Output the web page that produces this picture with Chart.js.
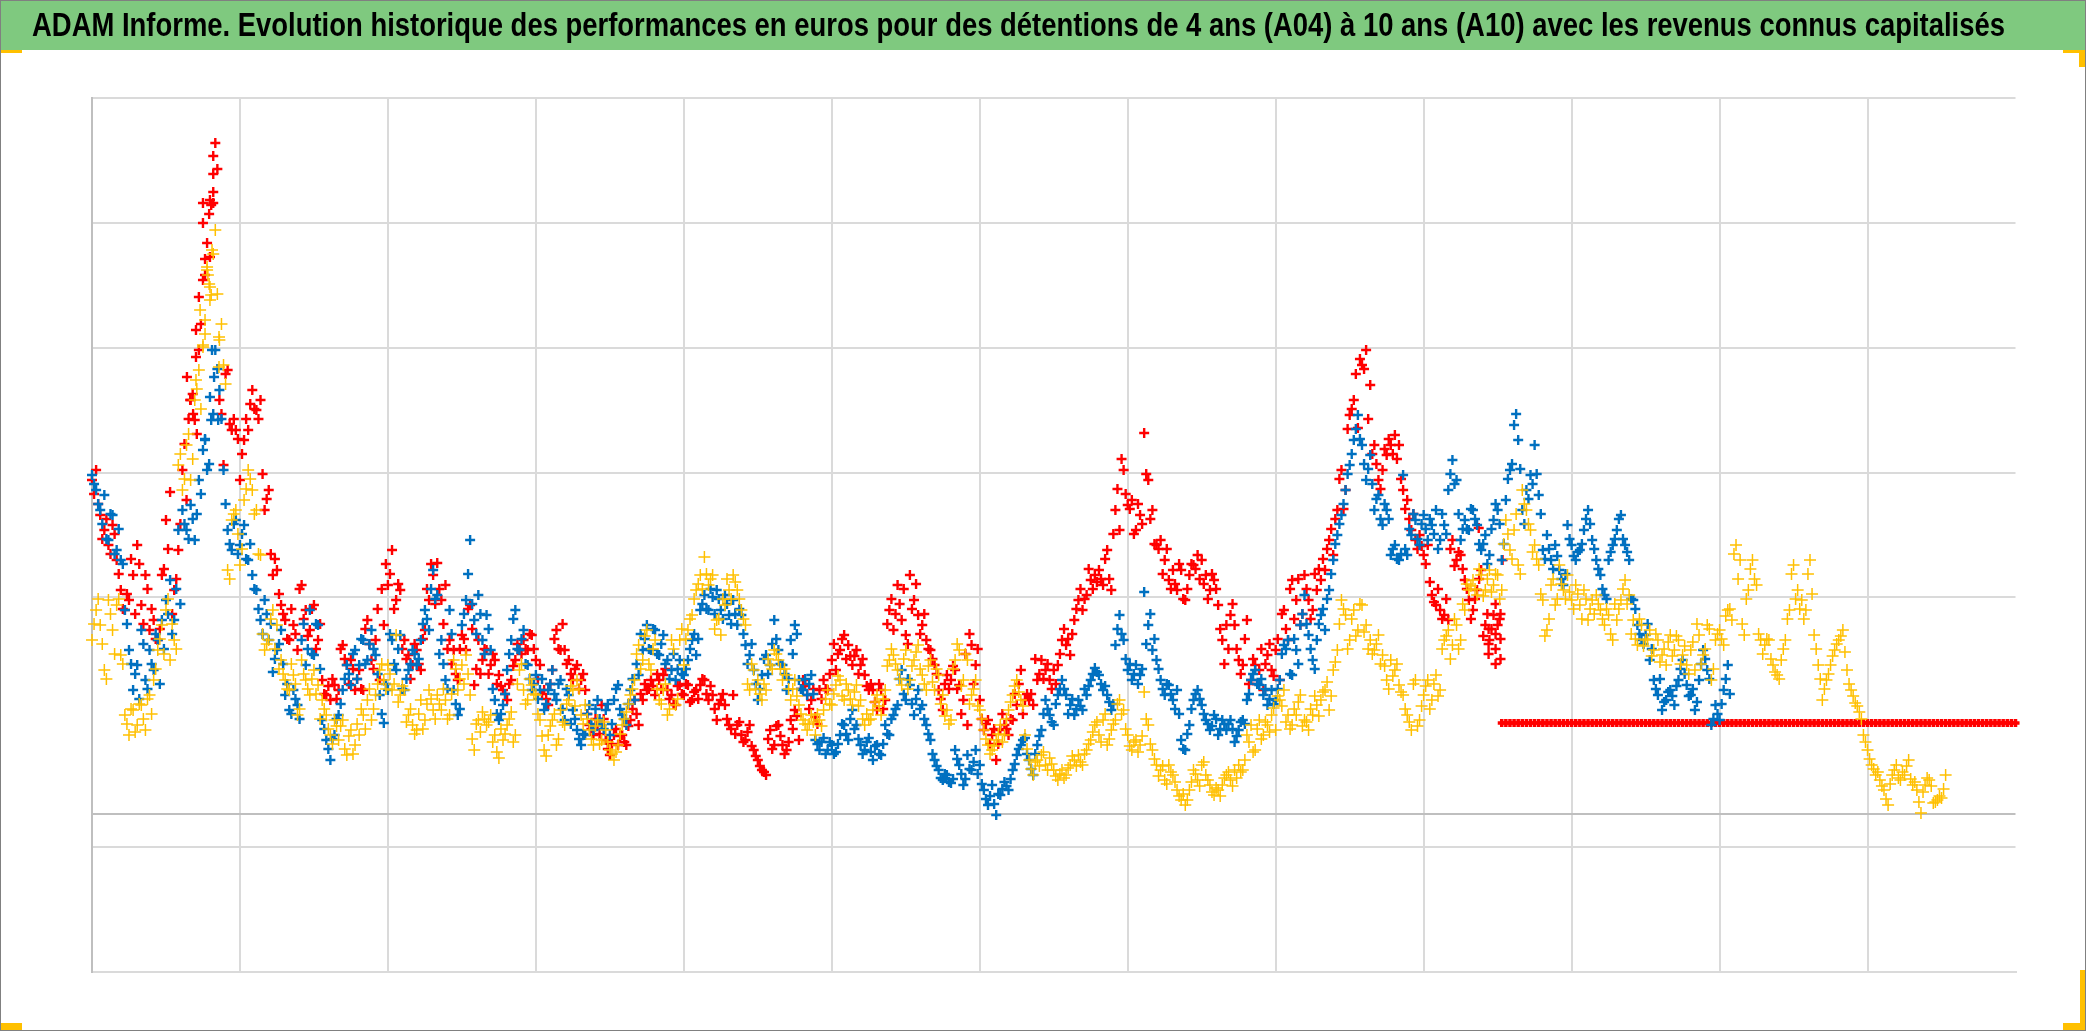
<!DOCTYPE html>
<html>
<head>
<meta charset="utf-8">
<title>ADAM Informe</title>
<script src="https://cdn.jsdelivr.net/npm/chart.js@4/dist/chart.umd.js"></script>
<style>
    html, body { margin: 0; padding: 0; background: #fff; }
    canvas { display: block; }
</style>
</head>
<body>
<canvas id="chart" width="2086" height="1031"></canvas>
<script>
const titleText = "ADAM Informe. Evolution historique des performances en euros pour des détentions de 4 ans (A04) à 10 ans (A10) avec les revenus connus capitalisés";

// no labels on the original axes: x runs in sampling steps, 36 per grid interval
const xMax = 468;
const xStep = 36;
const yTicks = [-158, -33, 0, 92, 217, 341, 466, 591, 716];

// first reading of each cloud, one value per step
const blueValues = [
    339, 324, 304, 319, 274, 299, 264, 254, 204, 164, 124, 149,
    184, 134, 164, 144, 174, 194, 214, 234, 194, 284, 304, 284,
    309, 274, 334, 364, 344, 394, 464, 424, 344, 284, 264, 294,
    269, 289, 254, 239, 224, 194, 214, 174, 142, 164, 184, 119,
    104, 124, 109, 174, 149, 204, 159, 189, 94, 74, 54, 79,
    99, 124, 149, 129, 164, 149, 174, 154, 184, 159, 119, 91,
    124, 174, 144, 179, 124, 144, 164, 149, 174, 204, 184, 244,
    219, 174, 134, 204, 124, 99, 189, 214, 274, 194, 219, 174,
    199, 164, 114, 94, 109, 144, 174, 204, 164, 184, 149, 124,
    139, 124, 104, 124, 144, 114, 134, 94, 119, 104, 84, 69,
    79, 109, 84, 114, 89, 104, 79, 114, 129, 99, 89, 124,
    114, 139, 164, 189, 164, 184, 159, 179, 154, 144, 134, 154,
    139, 154, 174, 159, 204, 219, 204, 217, 224, 204, 219, 199,
    214, 189, 199, 169, 159, 144, 114, 139, 159, 149, 194, 164,
    149, 124, 174, 189, 134, 124, 119, 139, 74, 64, 76, 64,
    69, 62, 79, 89, 74, 104, 89, 69, 64, 76, 54, 69,
    59, 89, 79, 99, 109, 144, 114, 129, 99, 124, 109, 89,
    74, 54, 44, 34, 39, 31, 64, 49, 29, 59, 44, 64,
    49, 24, 9, 29, -1, 19, 32, 24, 44, 59, 69, 76,
    54, 39, 69, 84, 114, 99, 89, 119, 134, 119, 109, 99,
    114, 104, 119, 134, 146, 139, 124, 119, 104, 169, 199, 174,
    144, 134, 149, 139, 222, 189, 164, 154, 134, 119, 129, 114,
    124, 74, 64, 89, 114, 124, 109, 94, 84, 99, 79, 94,
    84, 94, 72, 84, 94, 114, 134, 144, 129, 119, 109, 124,
    114, 134, 169, 174, 139, 164, 189, 219, 179, 154, 174, 199,
    184, 224, 254, 279, 299, 324, 349, 374, 399, 369, 334, 359,
    304, 319, 289, 304, 259, 269, 254, 339, 259, 279, 294, 269,
    299, 274, 289, 304, 274, 289, 324, 354, 334, 274, 294, 284,
    304, 289, 264, 279, 259, 294, 304, 254, 314, 344, 389, 374,
    304, 324, 339, 369, 319, 264, 279, 254, 269, 244, 229, 289,
    269, 254, 264, 284, 304, 274, 254, 239, 219, 254, 269, 284,
    299, 269, 254, 214, 189, 174, 179, 154, 134, 119, 104, 114,
    124, 109, 134, 154, 129, 119, 104, 134, 164, 144, 89, 109,
    94, 124, 149
];
// second reading, half a step later
const blueSecond = [
    330, 310, 290, 275, 300, 260, 285, 250, 190, 150, 140, 115,
    170, 125, 150, 180, 130, 165, 200, 180, 225, 210, 290, 275,
    295, 300, 320, 375, 350, 400, 445, 395, 310, 270, 290, 260,
    280, 255, 270, 225, 205, 180, 200, 190, 155, 170, 150, 130,
    100, 115, 95, 190, 165, 160, 190, 145, 85, 65, 75, 95,
    110, 135, 140, 160, 135, 175, 150, 170, 165, 140, 100, 130,
    180, 150, 165, 125, 135, 150, 160, 155, 190, 195, 225, 215,
    160, 150, 125, 180, 110, 105, 200, 240, 210, 180, 200, 160,
    185, 125, 100, 100, 120, 160, 195, 165, 175, 150, 135, 130,
    115, 135, 110, 130, 120, 130, 105, 125, 90, 95, 75, 80,
    100, 90, 105, 95, 85, 110, 90, 125, 105, 95, 110, 135,
    150, 180, 175, 165, 185, 160, 170, 150, 135, 160, 145, 140,
    145, 165, 180, 175, 210, 205, 225, 200, 215, 195, 210, 190,
    200, 205, 180, 150, 170, 130, 125, 155, 140, 170, 175, 150,
    140, 135, 160, 180, 125, 135, 130, 120, 70, 72, 60, 72,
    60, 70, 90, 80, 95, 85, 75, 60, 72, 62, 68, 60,
    70, 80, 95, 105, 135, 120, 135, 110, 115, 105, 95, 80,
    60, 48, 36, 40, 32, 35, 55, 40, 35, 45, 52, 40,
    30, 15, 18, 10, 20, 25, 28, 35, 50, 65, 74, 60,
    45, 60, 78, 100, 105, 92, 110, 125, 125, 100, 115, 105,
    108, 125, 128, 140, 142, 130, 128, 112, 110, 185, 180, 155,
    150, 140, 130, 145, 170, 200, 175, 145, 125, 130, 120, 105,
    100, 65, 80, 105, 120, 115, 100, 90, 88, 95, 85, 90,
    90, 85, 78, 92, 90, 120, 140, 130, 135, 125, 115, 110,
    125, 160, 165, 140, 175, 150, 200, 190, 165, 145, 190, 205,
    215, 240, 270, 290, 310, 340, 360, 385, 375, 350, 345, 330,
    315, 295, 310, 295, 265, 255, 260, 265, 285, 300, 275, 290,
    285, 295, 280, 265, 300, 280, 340, 330, 300, 285, 285, 305,
    295, 270, 270, 250, 285, 310, 290, 270, 335, 350, 400, 345,
    290, 315, 330, 340, 300, 255, 265, 245, 258, 235, 240, 275,
    258, 262, 270, 295, 290, 265, 245, 225, 215, 262, 275, 295,
    275, 262, 215, 205, 180, 170, 190, 165, 125, 135, 112, 122,
    118, 128, 145, 140, 118, 125, 112, 150, 155, 135, 95, 100,
    110, 135, 120
];
const blueExtraX = [27.5, 28.7, 29.2, 29.7, 30.7];
const blueExtraY = [374, 417, 464, 437, 394];

const yellowValues = [
    174, 204, 189, 144, 214, 184, 209, 159, 99, 79, 104, 89,
    109, 84, 119, 134, 164, 189, 204, 154, 174, 349, 324, 369,
    334, 414, 444, 469, 544, 519, 584, 474, 449, 244, 294, 304,
    249, 314, 344, 324, 304, 259, 164, 174, 204, 189, 154, 134,
    124, 139, 99, 154, 134, 119, 144, 129, 114, 99, 79, 94,
    74, 94, 59, 84, 69, 79, 99, 114, 94, 119, 144, 134,
    149, 124, 179, 119, 124, 99, 89, 84, 114, 94, 124, 104,
    119, 104, 114, 99, 154, 124, 149, 159, 119, 64, 94, 102,
    89, 99, 79, 56, 74, 89, 102, 79, 144, 124, 114, 129,
    119, 94, 64, 79, 94, 69, 104, 89, 114, 124, 134, 99,
    109, 84, 69, 94, 74, 84, 64, 54, 69, 89, 102, 119,
    134, 169, 154, 184, 144, 174, 114, 124, 99, 174, 109, 174,
    149, 184, 199, 224, 239, 257, 229, 239, 194, 179, 209, 224,
    239, 224, 204, 189, 124, 144, 134, 114, 124, 149, 164, 154,
    134, 139, 114, 134, 109, 94, 84, 99, 79, 94, 104, 124,
    109, 129, 134, 114, 124, 109, 129, 114, 89, 94, 104, 119,
    99, 124, 154, 159, 144, 129, 164, 134, 154, 169, 139, 124,
    154, 124, 139, 119, 104, 94, 154, 164, 134, 154, 119, 134,
    104, 84, 69, 64, 74, 89, 79, 104, 119, 134, 114, 79,
    54, 39, 54, 59, 49, 56, 44, 34, 44, 39, 49, 54,
    59, 49, 64, 74, 89, 79, 94, 69, 84, 94, 114, 104,
    79, 64, 74, 69, 122, 89, 64, 49, 44, 34, 49, 39,
    24, 14, 9, 24, 44, 34, 49, 39, 29, 19, 24, 29,
    39, 34, 44, 49, 44, 79, 89, 64, 94, 79, 89, 99,
    84, 114, 124, 99, 89, 99, 119, 94, 84, 99, 109, 114,
    124, 104, 144, 164, 214, 199, 174, 204, 184, 209, 189, 174,
    164, 179, 159, 134, 154, 144, 129, 119, 99, 84, 134, 94,
    119, 134, 114, 139, 124, 174, 184, 169, 189, 174, 204, 224,
    234, 219, 239, 224, 244, 229, 239, 224, 294, 264, 284, 249,
    324, 304, 284, 269, 249, 214, 184, 229, 209, 249, 224, 239,
    214, 229, 209, 224, 194, 214, 219, 204, 189, 199, 174, 194,
    214, 234, 219, 194, 169, 189, 174, 184, 164, 174, 159, 149,
    179, 164, 174, 159, 149, 164, 144, 179, 159, 189, 134, 174,
    184, 169, 204, 194, 269, 254, 179, 224, 254, 229, 174, 169,
    174, 149, 139, 154, 174, 204, 249, 224, 214, 204, 254, 179,
    149, 114, 134, 149, 164, 174, 184, 144, 124, 111, 102, 79,
    64, 49, 39, 34, 24, 9, 39, 49, 34, 39, 54, 29,
    24, 1, 29, 34, 11, 14, 16, 39
];
const yellowSecond = [
    190, 215, 170, 135, 200, 160, 215, 150, 90, 105, 82, 110,
    95, 115, 100, 145, 175, 160, 215, 190, 165, 360, 335, 380,
    355, 425, 405, 480, 530, 560, 520, 490, 430, 235, 300, 280,
    265, 325, 335, 300, 260, 180, 170, 195, 165, 145, 140, 125,
    150, 130, 105, 140, 125, 135, 120, 95, 105, 85, 70, 88,
    88, 65, 78, 60, 90, 105, 85, 125, 105, 130, 150, 125,
    140, 130, 112, 128, 92, 105, 80, 100, 85, 110, 115, 95,
    110, 125, 95, 120, 145, 135, 130, 140, 75, 90, 82, 95,
    92, 72, 62, 85, 80, 95, 72, 130, 150, 110, 135, 120,
    100, 78, 58, 88, 100, 75, 92, 110, 128, 108, 125, 90,
    95, 75, 88, 70, 92, 72, 60, 62, 80, 95, 110, 125,
    160, 145, 178, 150, 165, 125, 110, 130, 105, 165, 115, 185,
    175, 195, 215, 230, 225, 240, 235, 185, 195, 215, 235, 215,
    232, 215, 195, 130, 150, 125, 120, 130, 155, 145, 160, 145,
    145, 125, 125, 118, 100, 90, 90, 92, 100, 88, 115, 110,
    120, 138, 118, 130, 115, 122, 108, 95, 100, 95, 112, 108,
    115, 148, 165, 150, 135, 155, 125, 148, 162, 145, 130, 148,
    132, 145, 110, 98, 90, 145, 170, 128, 160, 110, 125, 108,
    95, 75, 60, 68, 80, 72, 95, 112, 128, 122, 108, 65,
    45, 52, 48, 62, 44, 50, 38, 40, 36, 46, 58, 48,
    52, 60, 70, 82, 92, 72, 100, 75, 90, 110, 100, 85,
    68, 72, 62, 78, 95, 70, 55, 38, 48, 30, 42, 32,
    18, 20, 14, 32, 40, 28, 52, 34, 22, 26, 18, 36,
    42, 28, 36, 42, 54, 72, 62, 85, 75, 92, 82, 106,
    118, 108, 92, 85, 105, 112, 88, 92, 105, 118, 98, 122,
    132, 118, 152, 190, 205, 165, 195, 178, 210, 182, 165, 160,
    170, 150, 148, 125, 138, 150, 122, 105, 92, 130, 88, 108,
    128, 105, 130, 118, 165, 178, 155, 195, 165, 210, 230, 228,
    225, 245, 218, 235, 222, 240, 215, 270, 280, 255, 300, 240,
    310, 290, 262, 255, 220, 178, 195, 235, 215, 230, 215, 222,
    205, 220, 195, 215, 205, 200, 210, 195, 205, 180, 210, 205,
    225, 210, 180, 175, 195, 168, 175, 158, 180, 152, 165, 172,
    158, 178, 150, 168, 140, 172, 190, 150, 165, 185, 145, 180,
    175, 198, 205, 260, 235, 190, 215, 245, 235, 180, 160, 175,
    155, 142, 135, 165, 195, 240, 215, 205, 195, 240, 220, 165,
    135, 125, 140, 158, 170, 178, 162, 130, 118, 108, 95, 72,
    55, 45, 42, 28, 15, 30, 44, 36, 42, 48, 35, 32,
    12, 22, 36, 28, 12, 18, 25
];
const yellowExtraX = [25.3, 26.3, 27, 27.5, 28, 28.2, 28.7, 28.7, 29.2, 30.9, 30.9];
const yellowExtraY = [434, 504, 467, 494, 547, 539, 527, 514, 564, 477, 447];
const yellowTail = [91, 91, 91, 91, 91, 91, 91, 91, 91, 91, 91, 91, 91, 91, 91, 91, 91];

const redValues = [
    334, 344, 299, 284, 269, 289, 254, 224, 204, 214, 239, 269,
    209, 239, 184, 194, 174, 239, 294, 322, 224, 264, 344, 314,
    414, 394, 464, 534, 571, 609, 671, 414, 349, 444, 384, 384,
    334, 374, 384, 424, 404, 414, 304, 324, 239, 244, 209, 194,
    174, 189, 164, 229, 204, 184, 209, 174, 134, 119, 114, 129,
    124, 169, 149, 154, 124, 144, 124, 194, 154, 174, 134, 189,
    229, 264, 214, 224, 174, 159, 149, 164, 144, 184, 214, 239,
    251, 214, 229, 174, 164, 134, 179, 164, 209, 129, 174, 154,
    164, 149, 154, 139, 124, 114, 134, 154, 164, 174, 164, 179,
    154, 149, 124, 109, 144, 184, 164, 164, 154, 134, 149, 134,
    124, 89, 79, 89, 109, 74, 59, 79, 69, 79, 69, 94,
    114, 89, 114, 124, 134, 119, 134, 139, 124, 119, 109, 129,
    119, 129, 114, 124, 129, 134, 114, 119, 94, 114, 109, 89,
    119, 89, 79, 74, 89, 64, 54, 44, 39, 84, 69, 89,
    69, 64, 94, 104, 74, 134, 119, 114, 97, 124, 134, 124,
    154, 144, 164, 179, 169, 149, 164, 149, 139, 124, 124, 104,
    124, 114, 204, 184, 229, 194, 179, 239, 214, 199, 189, 174,
    164, 149, 124, 104, 139, 134, 144, 129, 114, 89, 169, 149,
    114, 84, 94, 79, 54, 84, 89, 79, 94, 109, 144, 114,
    114, 109, 134, 154, 144, 134, 144, 149, 174, 169, 159, 194,
    214, 204, 219, 234, 239, 244, 229, 264, 224, 304, 284, 344,
    309, 314, 284, 299, 381, 334, 304, 269, 274, 254, 234, 244,
    224, 244, 214, 239, 249, 259, 254, 239, 224, 234, 209, 174,
    189, 199, 189, 154, 149, 194, 134, 149, 144, 124, 159, 144,
    164, 134, 204, 174, 234, 214, 189, 239, 214, 204, 224, 234,
    244, 274, 259, 304, 344, 324, 399, 414, 386, 449, 464, 429,
    369, 334, 344, 359, 369, 379, 369, 324, 314, 284, 274, 279,
    259, 269, 219, 209, 204, 199, 194, 274, 254, 259, 234, 214,
    204, 224, 244, 189, 174, 199, 189
];
const redSecond = [
    320, 310, 275, 295, 260, 280, 240, 205, 220, 255, 200, 250,
    190, 225, 205, 175, 185, 245, 265, 200, 235, 290, 370, 395,
    420, 380, 490, 555, 600, 640, 645, 400, 440, 390, 395, 375,
    360, 395, 410, 405, 395, 340, 315, 260, 255, 220, 200, 175,
    205, 180, 225, 195, 178, 205, 165, 190, 120, 128, 135, 115,
    165, 155, 130, 145, 135, 125, 185, 170, 145, 205, 225, 250,
    240, 205, 230, 165, 155, 135, 170, 150, 175, 225, 250, 210,
    225, 190, 165, 150, 140, 165, 175, 205, 185, 145, 140, 165,
    140, 160, 130, 128, 120, 130, 148, 170, 160, 165, 180, 165,
    135, 120, 115, 130, 175, 165, 190, 150, 140, 145, 125, 140,
    100, 85, 95, 80, 95, 65, 70, 85, 78, 72, 88, 105,
    100, 120, 130, 125, 128, 140, 125, 145, 115, 110, 128, 120,
    130, 112, 122, 115, 135, 120, 128, 105, 110, 120, 95, 85,
    80, 92, 72, 82, 68, 58, 48, 42, 75, 65, 88, 78,
    60, 72, 85, 98, 125, 128, 105, 125, 90, 115, 125, 140,
    170, 160, 175, 155, 158, 158, 140, 155, 128, 130, 112, 130,
    105, 190, 215, 200, 210, 225, 170, 205, 230, 180, 200, 165,
    155, 140, 115, 130, 125, 148, 125, 100, 160, 180, 130, 165,
    95, 90, 70, 85, 70, 100, 85, 95, 120, 130, 100, 120,
    120, 155, 140, 135, 150, 125, 130, 160, 185, 175, 180, 205,
    225, 215, 245, 225, 232, 235, 255, 235, 280, 325, 355, 320,
    305, 280, 310, 290, 340, 295, 270, 265, 240, 265, 225, 230,
    250, 215, 225, 250, 245, 235, 230, 215, 240, 225, 185, 150,
    165, 210, 165, 140, 175, 130, 155, 130, 165, 150, 170, 138,
    175, 200, 185, 225, 195, 235, 200, 225, 195, 240, 245, 255,
    265, 285, 295, 335, 305, 385, 405, 440, 455, 445, 395, 360,
    350, 325, 365, 375, 360, 355, 335, 305, 295, 300, 265, 268,
    250, 232, 212, 225, 195, 215, 265, 248, 262, 245, 225, 195,
    215, 235, 178, 200, 185, 210, 195
];
const redExtraX = [23.1, 23.9, 24.6, 25.3, 25.3, 26, 27, 27, 27.5, 28.7, 28.7, 29.5, 29.5, 29.5, 337.4, 339.8, 339.8, 339.8, 341.5, 341.5, 341.5, 342.7, 342.7, 342.7, 343.2];
const redExtraY = [437, 414, 400, 484, 457, 517, 611, 591, 539, 614, 557, 658, 622, 611, 286, 170, 185, 160, 180, 165, 150, 175, 155, 200, 254];
const redTail = [
    91, 91, 91, 91, 91, 91, 91, 91, 91, 91, 91, 91, 91, 91, 91, 91, 91, 91, 91, 91, 91,
    91, 91, 91, 91, 91, 91, 91, 91, 91, 91, 91, 91, 91, 91, 91, 91, 91, 91, 91, 91, 91,
    91, 91, 91, 91, 91, 91, 91, 91, 91, 91, 91, 91, 91, 91, 91, 91, 91, 91, 91, 91, 91,
    91, 91, 91, 91, 91, 91, 91, 91, 91, 91, 91, 91, 91, 91, 91, 91, 91, 91, 91, 91, 91,
    91, 91, 91, 91, 91, 91, 91, 91, 91, 91, 91, 91, 91, 91, 91, 91, 91, 91, 91, 91, 91,
    91, 91, 91, 91, 91, 91, 91, 91, 91, 91, 91, 91, 91, 91, 91, 91, 91, 91, 91, 91, 91
];

function toPoints(values, second, extraX, extraY, start) {
    let from = start || 0;
    let points = values.map((v, i) => ({ x: from + i, y: v }));
    (second || []).forEach((v, i) => points.push({ x: from + i + 0.5, y: v }));
    (extraX || []).forEach((x, i) => points.push({ x: x, y: extraY[i] }));
    return points;
}

function plusSeries(label, color, radius, width, points) {
    return {
        label: label,
        data: points,
        pointStyle: 'cross',
        pointRadius: radius,
        pointBorderWidth: width,
        pointBorderColor: color,
        pointBackgroundColor: color,
        borderColor: color,
        showLine: false,
        clip: false
    };
}

// green band, outer frame and the yellow corners of the slide
const slideFrame = {
    id: 'slideFrame',
    beforeDraw(chart) {
        const c = chart.ctx;
        c.save();
        c.fillStyle = '#fff';
        c.fillRect(0, 0, 2086, 1031);
        c.fillStyle = '#7FC97F';
        c.fillRect(0, 0, 2086, 50);
        c.fillStyle = '#FFC000';
        c.fillRect(0, 50, 22, 3);
        c.fillRect(2063, 50, 22, 3);
        c.fillRect(2079, 50, 6, 17);
        c.fillRect(0, 1023, 22, 7);
        c.fillRect(2063, 1023, 22, 7);
        c.fillRect(2080, 970, 6, 60);
        c.strokeStyle = '#808080';
        c.lineWidth = 1;
        c.strokeRect(0.5, 0.5, 2085, 1030);
        c.restore();
    },
    afterLayout(chart) {
        // the title sits on the slide band, not on the plot width
        chart.titleBlock.left = 32;
        chart.titleBlock.right = 2005;
    }
};

new Chart(document.getElementById('chart'), {
    type: 'scatter',
    data: {
        datasets: [
            plusSeries('A04', '#FFC000', 6, 1.5, toPoints(yellowValues, yellowSecond, yellowExtraX, yellowExtraY)),
            plusSeries('A07', '#0070C0', 5, 2.4, toPoints(blueValues, blueSecond, blueExtraX, blueExtraY)),
            plusSeries('A10', '#FF0000', 5, 2.4, toPoints(redValues, redSecond, redExtraX, redExtraY)),
            plusSeries('A10 sans valeur', '#FF0000', 4, 3.5, toPoints(redTail, null, null, null, 343)),
            plusSeries('A04 sans valeur', 'rgba(255,192,0,0.7)', 4, 1.6, toPoints(yellowTail, null, null, null, 452))
        ]
    },
    options: {
        responsive: false,
        animation: false,
        events: [],
        layout: { padding: { left: 92, right: 70.5, top: 0, bottom: 59 } },
        plugins: {
            legend: { display: false },
            tooltip: { enabled: false },
            title: {
                display: true,
                text: titleText,
                color: '#000',
                font: { family: '"Liberation Sans", sans-serif', weight: 'bold', size: 33, lineHeight: 1 },
                padding: { top: 10, bottom: 55 }
            }
        },
        scales: {
            x: {
                type: 'linear',
                min: 0,
                max: xMax,
                ticks: { display: false, stepSize: xStep },
                grid: {
                    drawTicks: false,
                    lineWidth: 2,
                    color: (ctx) => ctx.tick && ctx.tick.value === xMax ? 'transparent' : '#DADADA'
                },
                border: { color: '#DADADA', width: 2 }
            },
            y: {
                min: yTicks[0],
                max: yTicks[yTicks.length - 1],
                afterBuildTicks: (axis) => { axis.ticks = yTicks.map((v) => ({ value: v })); },
                ticks: { display: false },
                grid: {
                    drawTicks: false,
                    lineWidth: 2,
                    color: (ctx) => {
                        let v = ctx.tick ? ctx.tick.value : null;
                        if (v === 0) return '#BFBFBF';
                        if (v === 92) return 'transparent';
                        return '#DADADA';
                    }
                },
                border: { color: '#BFBFBF', width: 2 }
            }
        }
    },
    plugins: [slideFrame]
});
</script>
</body>
</html>
